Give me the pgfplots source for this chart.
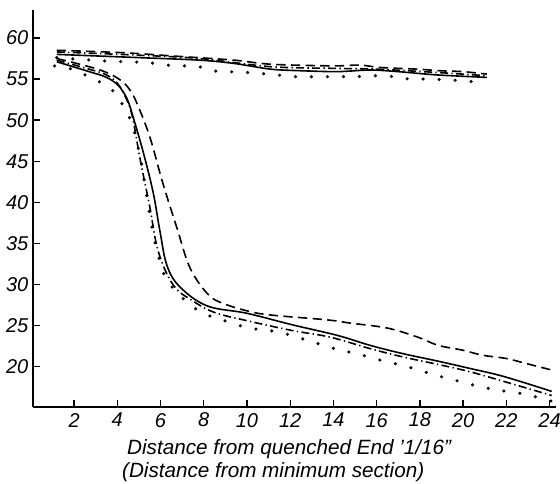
\documentclass[border=0pt]{standalone}
\usepackage{fontspec}
\setmainfont{Liberation Sans}
\usepackage{pgfplots}
\pgfplotsset{compat=1.18}
\begin{document}
\begin{tikzpicture}
\begin{axis}[name=ax, scale only axis, width=392.25pt, height=297.75pt,
  xmin=0.1, xmax=24.3, ymin=15.1, ymax=63.4,
  axis x line=bottom, axis y line=left,
  axis line style={-, line width=1.6pt},
  xtick={2,4,...,24}, ytick={20,25,...,60},
  tick align=inside, major tick length=5pt,
  tick style={line width=1pt, black},
  ticklabel style={font=\fontsize{15}{17}\selectfont\itshape},
  xticklabel style={yshift=-1pt},
  /pgf/number format/assume math mode=true,
  xlabel={Distance from quenched End '1/16''\\(Distance from minimum section)\hspace*{24pt}},
  xlabel style={align=center, font=\fontsize{15.5}{17}\selectfont\itshape, yshift=-2.5pt, xshift=-4pt},
  clip=false]
% upper band
\addplot[black, line width=1.2pt, dash pattern=on 7pt off 4pt, smooth] coordinates {
(1.2,58.5)(4.3,58.2)(6.6,57.8)(9.4,57.3)(11.1,56.8)(14.0,56.6)(15.2,56.7)(16.2,56.4)(17.9,56.2)(19.0,56.0)(20.0,55.9)(21.1,55.6)};
\addplot[black, line width=1.2pt, dash pattern=on 6pt off 2.5pt on 1pt off 2.5pt, smooth] coordinates {
(1.2,58.3)(5,57.9)(7.8,57.5)(11.1,56.5)(14,56.3)(16,56.2)(18.8,55.8)(21.1,55.4)};
\addplot[black, line width=1.2pt, smooth] coordinates {
(1.2,58.0)(5.05,57.6)(7.8,57.3)(9.4,56.9)(11.1,56.2)(12.6,56.0)(14.2,55.9)(15.7,56.1)(17,55.9)(18.8,55.5)(21.1,55.2)};
\addplot[black, line width=2.6pt, line cap=round, dash pattern=on 0pt off 12pt, smooth] coordinates {
(1.2,57.6)(3.4,57.2)(5.4,57.0)(6.2,56.7)(7.8,56.5)(8.4,56.0)(10.0,55.8)(11.4,55.5)(12.1,55.3)(15.0,55.3)(15.7,55.4)(16.8,55.3)(17.5,55.0)(18.3,55.0)(20.0,54.8)(20.7,54.6)};
% lower curves
\addplot[black, line width=1.2pt, dash pattern=on 7pt off 4pt, smooth, tension=0.6] coordinates {
(1.2,57.5)(2.7,56.5)(3.5,55.8)(4.13,54.9)(4.55,53.8)(4.9,52.1)(5.5,48)(6.1,42.4)(6.77,36.8)(7.37,32.0)(8.2,28.8)(8.9,27.7)(10,26.8)(11.07,26.3)(13.7,25.7)(14.8,25.3)(16.5,24.7)(17.9,23.6)(18.85,22.6)(20.0,22.0)(20.9,21.4)(22.0,21.0)(22.9,20.4)(24.1,19.6)};
\addplot[black, line width=1.2pt, smooth, tension=0.6] coordinates {
(1.2,57.1)(2.7,55.9)(3.5,55.2)(4.05,54.2)(4.45,52.6)(4.73,50.4)(5.2,46.1)(5.66,41.2)(5.98,36.4)(6.3,32.3)(6.9,29.7)(8.16,27.4)(10,26.5)(12.1,25.1)(14.2,23.8)(15.7,22.6)(17.2,21.6)(18.8,20.7)(20.3,19.8)(21.9,18.8)(24.1,17.0)};
\addplot[black, line width=1.2pt, dash pattern=on 6pt off 2.5pt on 1pt off 2.5pt, smooth, tension=0.6] coordinates {
(1.2,57.3)(2.7,56.2)(3.5,55.5)(4.0,54.5)(4.4,52.7)(4.7,50.4)(5.06,45.2)(5.5,39.5)(5.9,34)(6.6,29.9)(7.5,28.0)(8.5,26.6)(10.0,25.6)(12.1,24.4)(13.85,23.6)(15.7,22.2)(17.2,21.2)(18.8,20.3)(20.3,19.4)(21.9,18.2)(24.1,16.5)};
\addplot[black, line width=2.6pt, line cap=round, dash pattern=on 0pt off 12pt, smooth, tension=0.5] coordinates {
(1.1,56.6)(2.05,56.1)(2.65,55.3)(3.15,54.7)(3.75,53.7)(4.1,52.6)(4.4,51.0)(4.7,49.5)(5.1,45)(5.35,41)(5.6,37)(5.85,34)(6.2,31)(6.6,29.5)(7.05,28.3)(7.7,26.9)(8.35,26.1)(9.2,25.4)(10.1,24.7)(11.3,24.3)(12.2,23.7)(13.3,22.8)(14.2,22.1)(15.2,21.5)(16.3,20.7)(17.3,20.1)(18.3,19.3)(19.1,18.7)(20.0,18.1)(20.9,17.5)(22.0,17.0)(22.8,16.7)(23.4,16.3)(24.1,15.8)};
\end{axis}
\pgfresetboundingbox
\path (ax.south west) ++(-24.75pt,-57.75pt) rectangle ++(420pt,363pt);
\end{tikzpicture}
\end{document}
